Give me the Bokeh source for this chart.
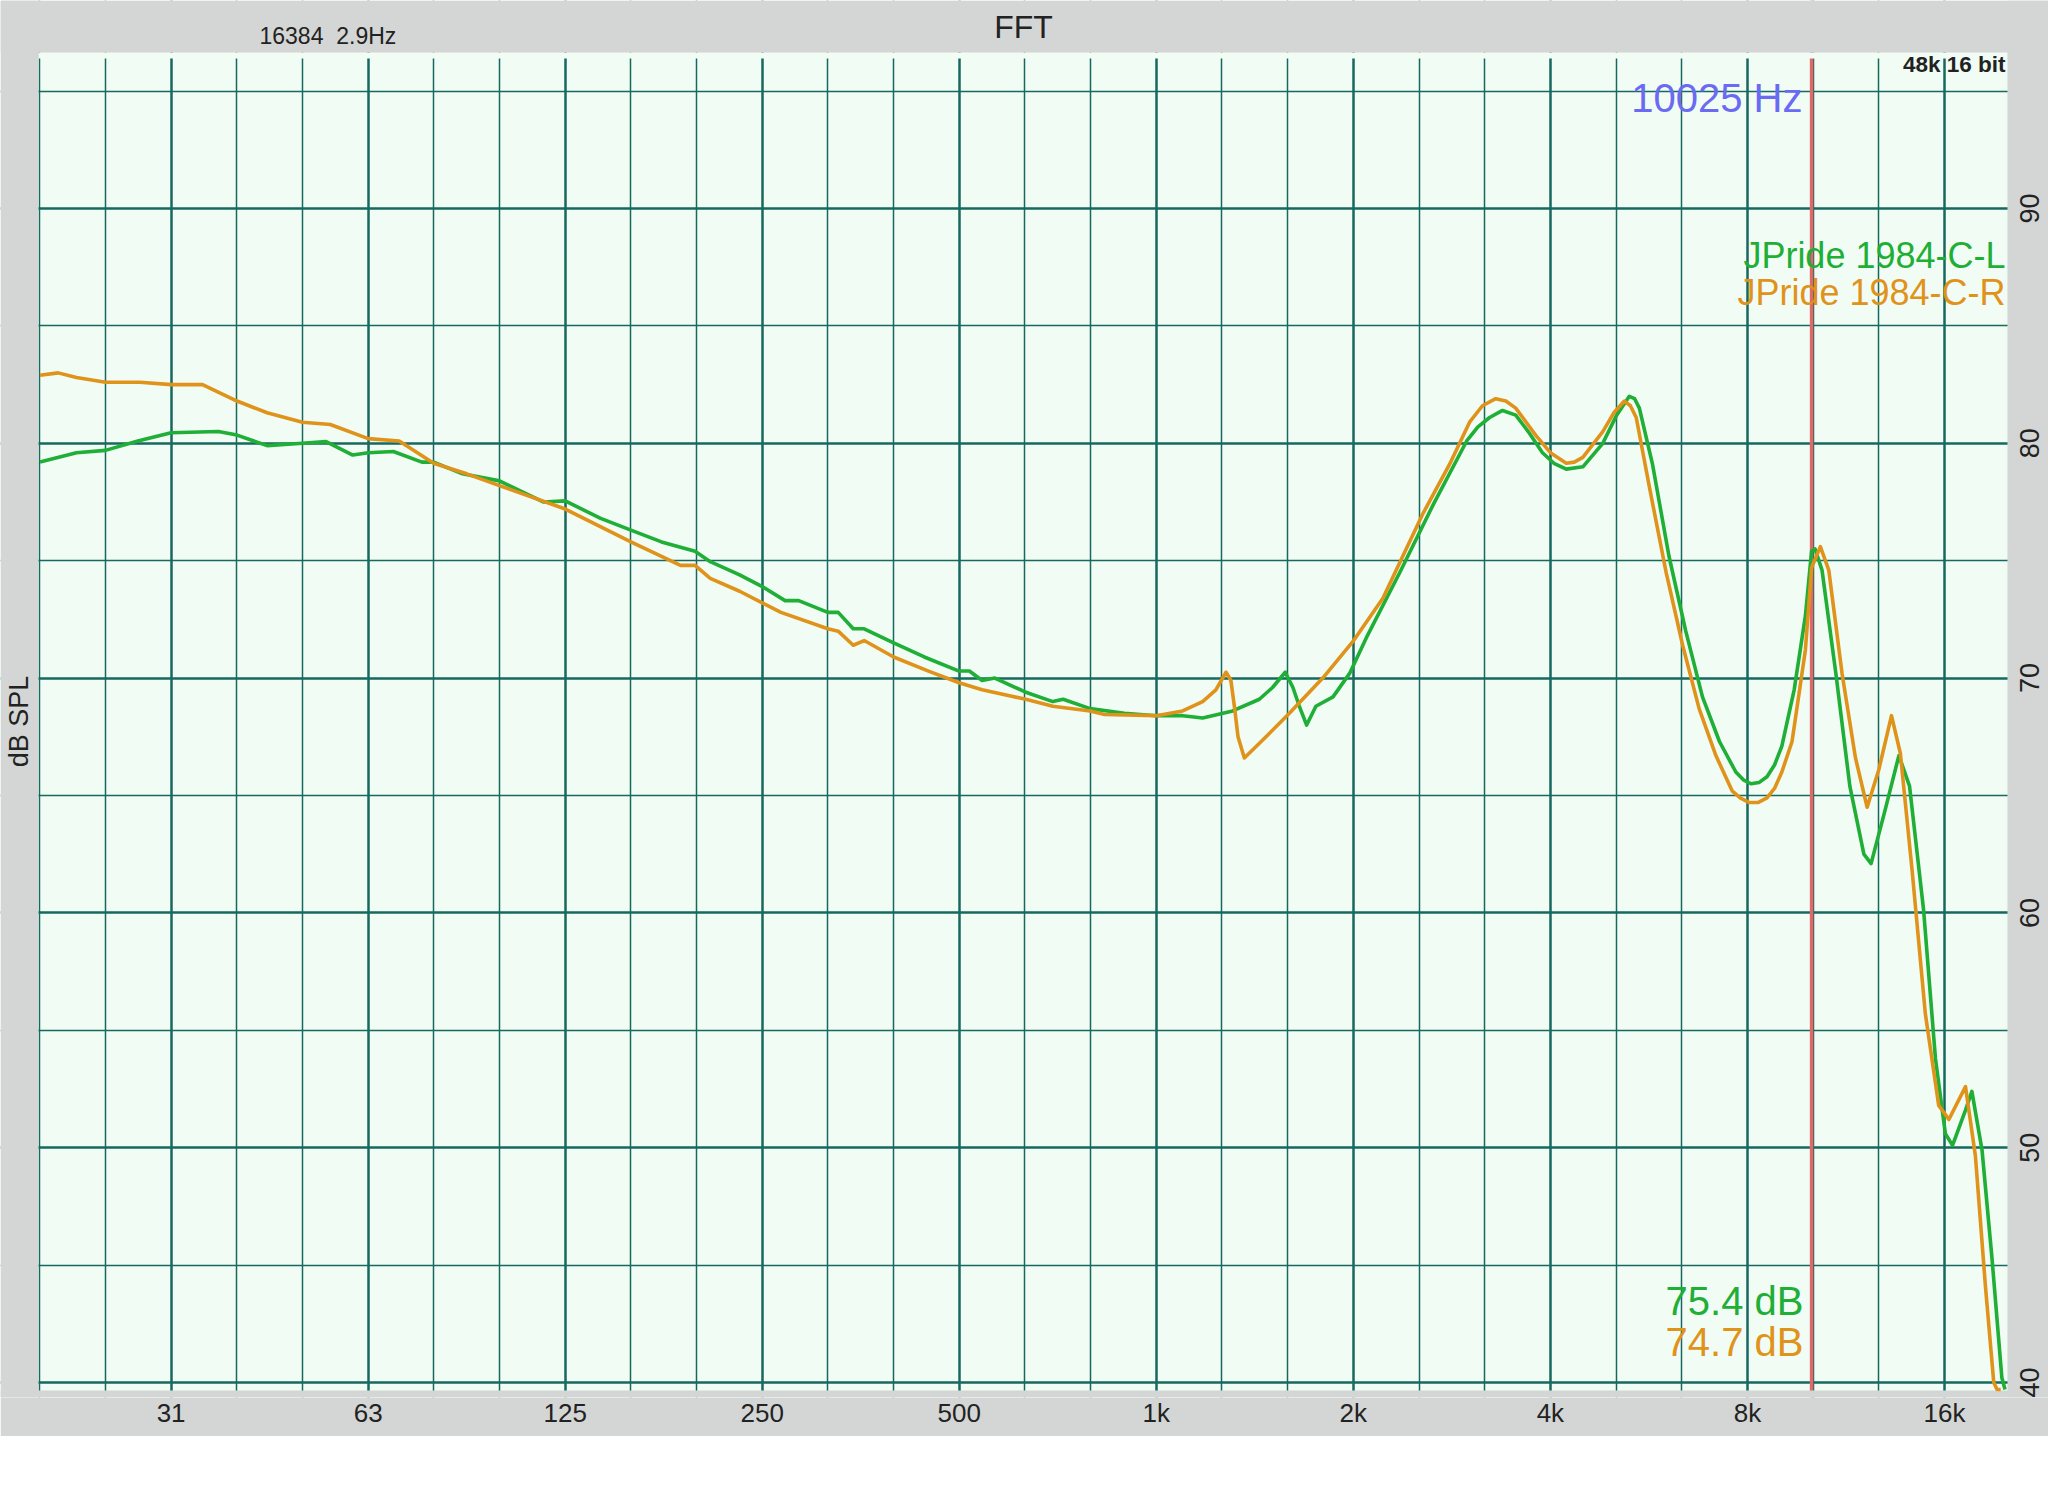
import math
from bokeh.plotting import figure
from bokeh.models import FixedTicker, Label, Span, Range1d, BoxAnnotation
from bokeh.embed import file_html
from bokeh.resources import INLINE

# ---------------- data ----------------
freq_L = [19.7, 22.4, 24.8, 27.8, 31.25, 36.9, 39.4, 43.8, 49.6, 53.9, 59.2, 62.5, 68.3,
          75.5, 78.7, 87.1, 99.2, 115.9, 125, 141.6, 157.5, 175.4, 197.4, 208.2, 230.9,
          250, 270.9, 284.2, 314.9, 326.6, 344.3, 357.8, 396.9, 442.1, 499.6, 518.1,
          541.8, 566.6, 631.8, 694.9, 720.5, 792.3, 894, 1000, 1097, 1177, 1308, 1437,
          1505, 1574, 1617, 1654, 1697, 1753, 1862, 1974, 2092, 2355, 2650, 2980, 3100,
          3230, 3380, 3541, 3700, 3890, 4050, 4230, 4484, 4810, 5050, 5280, 5380, 5470,
          5730, 6070, 6440, 6830, 7250, 7680, 7900, 8100, 8330, 8570, 8800, 9030, 9430,
          9810, 10025, 10150, 10400, 10920, 11470, 12050, 12360, 12990, 13630, 14150,
          14870, 15500, 16050, 16460, 17230, 17620, 18260, 18910, 19580, 19800]
spl_L = [79.2, 79.6, 79.7, 80.1, 80.45, 80.5, 80.35, 79.9, 80.0, 80.07, 79.5, 79.6, 79.65,
         79.2, 79.2, 78.7, 78.4, 77.5, 77.55, 76.8, 76.3, 75.8, 75.4, 74.96, 74.4,
         73.9, 73.3, 73.3, 72.8, 72.8, 72.1, 72.1, 71.5, 70.9, 70.3, 70.3,
         69.9, 70.0, 69.4, 69.0, 69.1, 68.7, 68.5, 68.4, 68.4, 68.3, 68.6, 69.1,
         69.6, 70.25, 69.6, 68.8, 68.0, 68.8, 69.2, 70.2, 71.7, 74.5, 77.4, 80.1, 80.7,
         81.1, 81.4, 81.2, 80.5, 79.6, 79.15, 78.9, 79.0, 80.0, 81.2, 82.0, 81.9, 81.5,
         79.1, 75.2, 72.0, 69.2, 67.3, 66.0, 65.65, 65.5, 65.55, 65.8, 66.3, 67.1, 69.5,
         72.65, 75.4, 75.5, 74.6, 70.2, 65.4, 62.5, 62.1, 64.4, 66.7, 65.4,
         60.1, 53.8, 50.6, 50.1, 51.6, 52.4, 49.9, 45.3, 40.2, 39.7]

freq_R = [19.7, 21.0, 22.4, 24.8, 28.0, 31.25, 34.9, 39.4, 43.8, 49.6, 54.7, 62.5, 69.7,
          78.7, 88.4, 99.2, 125, 157.5, 187.5, 197.4, 208.2, 230.9, 250, 267, 314.9,
          326.6, 344.3, 357.8, 396.9, 448.7, 499.6, 541.8, 631.8, 694.9, 792.3, 833.6,
          1000, 1097, 1177, 1233, 1278, 1300, 1316, 1333, 1363, 1471, 1597, 1796, 1996,
          2219, 2554, 2805, 3010, 3150, 3300, 3420, 3541, 3797, 4000, 4230, 4350, 4484,
          4810, 5000, 5190, 5300, 5410, 5670, 6010, 6370, 6750, 7160, 7580, 7800, 8050,
          8300, 8570, 8800, 9030, 9360, 9810, 10025, 10340, 10650, 11160, 11700, 12190,
          12700, 13280, 13700, 14280, 14960, 15680, 16250, 17230, 17840, 18480, 19030,
          19250, 19500]
spl_R = [82.9, 83.0, 82.8, 82.6, 82.6, 82.5, 82.5, 81.8, 81.3, 80.9, 80.8, 80.2, 80.1,
         79.15, 78.7, 78.2, 77.2, 75.8, 74.8, 74.8, 74.25, 73.7, 73.2, 72.8, 72.1,
         72.0, 71.4, 71.6, 70.9, 70.3, 69.8, 69.5, 69.1, 68.8, 68.6, 68.45,
         68.4, 68.6, 69.0, 69.5, 70.25, 69.9, 68.8, 67.5, 66.6, 67.5, 68.5, 70.0, 71.55,
         73.4, 77.0, 79.1, 80.9, 81.6, 81.9, 81.8, 81.5, 80.35, 79.6, 79.15, 79.2, 79.4,
         80.5, 81.3, 81.8, 81.6, 81.1, 78.1, 74.5, 71.4, 68.7, 66.7, 65.2, 64.9, 64.7,
         64.7, 64.9, 65.3, 66.0, 67.3, 71.2, 74.7, 75.6, 74.6, 70.2, 66.6, 64.5,
         66.1, 68.4, 66.8, 61.8, 55.7, 51.8, 51.2, 52.6, 49.65, 44.1, 40.0,
         39.7, 39.7]

x_tick_freqs = [31.25, 62.5, 125, 250, 500, 1000, 2000, 4000, 8000, 16000]
x_tick_labels = ["31", "63", "125", "250", "500", "1k", "2k", "4k", "8k", "16k"]
y_tick_values = [40, 50, 60, 70, 80, 90]
y_minor_values = [45, 55, 65, 75, 85, 95]
series_names = ["JPride 1984-C-L", "JPride 1984-C-R"]
cursor_freq = 10025
cursor_label = "10025 Hz"
cursor_readings = ["75.4 dB", "74.7 dB"]
title_text = "FFT"
info_left = "16384\u00a0\u00a02.9Hz"
info_right = "48k 16 bit"
y_title = "dB SPL"

# plot-area limits (Hz / dB) and the whole view (incl. grey margins)
AREA_F = (19.6, 19970)
AREA_DB = (39.66, 96.64)
GRID_TOP_DB = 96.39
VIEW_F = (17.146, 23071)
VIEW_DB = (39.36, 98.86)

# third-octave grid positions (minor)
minor_x = [1000 * 2 ** (k / 3) for k in range(-17, 13) if k % 3 != 0]

GREEN = "#1fae36"
ORANGE = "#e0931a"
GRID = "#17695f"
RED = "#e26767"
BG = "#f1fcf5"
GRAY = "#d4d6d5"
TXT = "#222222"
FONT = "Liberation Sans"

p = figure(width=2048, height=1436, x_axis_type="log",
           x_range=Range1d(*VIEW_F), y_range=Range1d(*VIEW_DB),
           y_axis_location=None, output_backend="svg", toolbar_location=None,
           min_border_left=0, min_border_right=0, min_border_top=0, min_border_bottom=39)
p.title.visible = False
p.background_fill_color = BG
p.border_fill_color = GRAY
p.outline_line_color = None

# x axis (below)
xa = p.xaxis[0]
xa.ticker = FixedTicker(ticks=x_tick_freqs)
xa.major_label_overrides = {f: t for f, t in zip(x_tick_freqs, x_tick_labels)}
xa.axis_line_color = None
xa.major_tick_line_color = None
xa.minor_tick_line_color = None
xa.major_tick_out = 0
xa.major_tick_in = 0
xa.minor_tick_out = 0
xa.minor_tick_in = 0
xa.major_label_standoff = 0
xa.major_label_text_font = FONT
xa.major_label_text_font_size = "26px"
xa.major_label_text_color = TXT

# grids
p.xgrid.ticker = FixedTicker(ticks=x_tick_freqs, minor_ticks=minor_x)
p.ygrid.ticker = FixedTicker(ticks=y_tick_values, minor_ticks=y_minor_values)
for g in (p.xgrid[0], p.ygrid[0]):
    g.grid_line_color = GRID
    g.grid_line_width = 2.5
    g.grid_line_alpha = 1.0
    g.minor_grid_line_color = GRID
    g.minor_grid_line_width = 1.5
    g.minor_grid_line_alpha = 1.0

# cursor
p.add_layout(Span(location=cursor_freq, dimension="height", line_color=RED,
                  line_width=3.5, level="underlay"))

# grey margins around the plot area, and the small gap above the grid
def box(color, **kw):
    p.add_layout(BoxAnnotation(fill_color=color, fill_alpha=1.0, line_color=None,
                               level="underlay", **kw))

box(BG, bottom=GRID_TOP_DB, top=AREA_DB[1], left=AREA_F[0], right=AREA_F[1])
box(GRAY, right=AREA_F[0])
box(GRAY, left=AREA_F[1])
box(GRAY, bottom=AREA_DB[1])
box(GRAY, top=AREA_DB[0])

# curves
p.line(freq_L, spl_L, line_color=GREEN, line_width=3.6, line_join="round")
p.line(freq_R, spl_R, line_color=ORANGE, line_width=3.6, line_join="round")

# texts (canvas pixel positions, vertically centred)
def lab(text, x, y, size, color=TXT, align="left", angle=0.0, style="normal",
        y_units="canvas"):
    p.add_layout(Label(x=x, y=y, x_units="canvas", y_units=y_units, text=text,
                       text_font=FONT, text_font_size=size, text_color=color,
                       text_align=align, text_baseline="middle", angle=angle,
                       text_font_style=style))

for v in y_tick_values:
    lab(str(v), 2029, v, "27px", align="center", angle=math.pi / 2, y_units="data")

lab(title_text, 1023, 26, "32px", align="center")
lab(info_left, 259, 35, "23px")
lab(y_title, 18, 721, "27px", align="center", angle=math.pi / 2)
lab(info_right, 2005, 64, "22.5px", align="right", style="bold")
lab(cursor_label, 1802, 97, "40px", color="#6a6af2", align="right")
lab(series_names[0], 2005, 255, "36px", color=GREEN, align="right")
lab(series_names[1], 2005, 292, "36px", color=ORANGE, align="right")
lab(cursor_readings[0], 1803, 1300, "40px", color=GREEN, align="right")
lab(cursor_readings[1], 1803, 1341, "40px", color=ORANGE, align="right")

open("out.html", "w").write(file_html(p, INLINE))
